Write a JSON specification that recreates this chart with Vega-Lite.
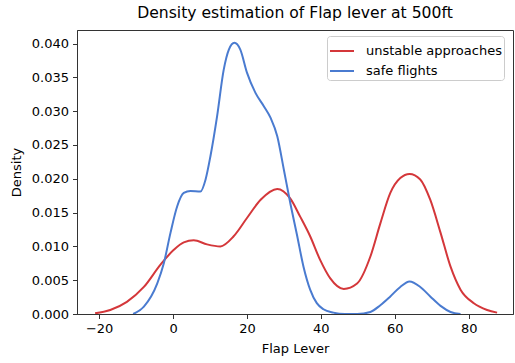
{
  "$schema": "https://vega.github.io/schema/vega-lite/v6.json",
  "width": 436,
  "height": 284,
  "autosize": {"type": "none"},
  "padding": {"left": 77, "top": 30, "right": 2, "bottom": 49},
  "title": {"text": "Density estimation of Flap lever at 500ft", "fontSize": 15.6, "font": "DejaVu Sans", "fontWeight": "normal", "color": "#000", "offset": 8, "anchor": "middle"},
  "config": {
    "view": {"stroke": "#333", "strokeWidth": 1},
    "font": "DejaVu Sans",
    "axis": {"grid": false, "domainColor": "#333", "tickColor": "#333", "tickSize": 4.5, "labelFontSize": 13, "labelColor": "#000", "titleFontSize": 13, "titleFontWeight": "normal", "titleColor": "#000", "labelPadding": 4, "labelFont": "DejaVu Sans", "titleFont": "DejaVu Sans"}
  },
  "data": {"values": [
    {"x": -21.1, "y": 0.0001, "s": "unstable approaches"},
    {"x": -17.0, "y": 0.0006, "s": "unstable approaches"},
    {"x": -12.5, "y": 0.0018, "s": "unstable approaches"},
    {"x": -7.9, "y": 0.0040, "s": "unstable approaches"},
    {"x": -3.4, "y": 0.0073, "s": "unstable approaches"},
    {"x": 0.2, "y": 0.0095, "s": "unstable approaches"},
    {"x": 2.9, "y": 0.0106, "s": "unstable approaches"},
    {"x": 5.6, "y": 0.0109, "s": "unstable approaches"},
    {"x": 9.2, "y": 0.0103, "s": "unstable approaches"},
    {"x": 12.8, "y": 0.0100, "s": "unstable approaches"},
    {"x": 16.4, "y": 0.0115, "s": "unstable approaches"},
    {"x": 20.0, "y": 0.0142, "s": "unstable approaches"},
    {"x": 23.7, "y": 0.0169, "s": "unstable approaches"},
    {"x": 28.2, "y": 0.0185, "s": "unstable approaches"},
    {"x": 31.7, "y": 0.0171, "s": "unstable approaches"},
    {"x": 34.4, "y": 0.0144, "s": "unstable approaches"},
    {"x": 37.1, "y": 0.0115, "s": "unstable approaches"},
    {"x": 39.8, "y": 0.0080, "s": "unstable approaches"},
    {"x": 42.5, "y": 0.0053, "s": "unstable approaches"},
    {"x": 46.2, "y": 0.0037, "s": "unstable approaches"},
    {"x": 49.8, "y": 0.0045, "s": "unstable approaches"},
    {"x": 53.4, "y": 0.0085, "s": "unstable approaches"},
    {"x": 56.1, "y": 0.0134, "s": "unstable approaches"},
    {"x": 58.8, "y": 0.0179, "s": "unstable approaches"},
    {"x": 61.5, "y": 0.0201, "s": "unstable approaches"},
    {"x": 64.0, "y": 0.0207, "s": "unstable approaches"},
    {"x": 66.9, "y": 0.0199, "s": "unstable approaches"},
    {"x": 69.6, "y": 0.0169, "s": "unstable approaches"},
    {"x": 72.4, "y": 0.0120, "s": "unstable approaches"},
    {"x": 75.1, "y": 0.0070, "s": "unstable approaches"},
    {"x": 77.8, "y": 0.0036, "s": "unstable approaches"},
    {"x": 81.4, "y": 0.0016, "s": "unstable approaches"},
    {"x": 85.0, "y": 0.0006, "s": "unstable approaches"},
    {"x": 87.7, "y": 0.0002, "s": "unstable approaches"},
    {"x": -10.8, "y": 0.0000, "s": "safe flights"},
    {"x": -7.9, "y": 0.0011, "s": "safe flights"},
    {"x": -4.3, "y": 0.0045, "s": "safe flights"},
    {"x": -2.5, "y": 0.0075, "s": "safe flights"},
    {"x": -0.7, "y": 0.0120, "s": "safe flights"},
    {"x": 1.1, "y": 0.0159, "s": "safe flights"},
    {"x": 2.9, "y": 0.0179, "s": "safe flights"},
    {"x": 4.7, "y": 0.0182, "s": "safe flights"},
    {"x": 7.4, "y": 0.0181, "s": "safe flights"},
    {"x": 8.8, "y": 0.0199, "s": "safe flights"},
    {"x": 10.1, "y": 0.0233, "s": "safe flights"},
    {"x": 11.9, "y": 0.0292, "s": "safe flights"},
    {"x": 13.7, "y": 0.0361, "s": "safe flights"},
    {"x": 15.1, "y": 0.0391, "s": "safe flights"},
    {"x": 16.6, "y": 0.0401, "s": "safe flights"},
    {"x": 18.2, "y": 0.0391, "s": "safe flights"},
    {"x": 20.0, "y": 0.0357, "s": "safe flights"},
    {"x": 22.3, "y": 0.0327, "s": "safe flights"},
    {"x": 24.6, "y": 0.0307, "s": "safe flights"},
    {"x": 26.4, "y": 0.0290, "s": "safe flights"},
    {"x": 28.2, "y": 0.0263, "s": "safe flights"},
    {"x": 30.0, "y": 0.0213, "s": "safe flights"},
    {"x": 31.8, "y": 0.0162, "s": "safe flights"},
    {"x": 33.5, "y": 0.0118, "s": "safe flights"},
    {"x": 35.3, "y": 0.0070, "s": "safe flights"},
    {"x": 37.1, "y": 0.0036, "s": "safe flights"},
    {"x": 38.9, "y": 0.0016, "s": "safe flights"},
    {"x": 40.7, "y": 0.0007, "s": "safe flights"},
    {"x": 43.4, "y": 0.0002, "s": "safe flights"},
    {"x": 46.5, "y": 0.0000, "s": "safe flights"},
    {"x": 49.8, "y": 0.0000, "s": "safe flights"},
    {"x": 53.4, "y": 0.0003, "s": "safe flights"},
    {"x": 56.1, "y": 0.0013, "s": "safe flights"},
    {"x": 58.8, "y": 0.0026, "s": "safe flights"},
    {"x": 61.5, "y": 0.0040, "s": "safe flights"},
    {"x": 64.0, "y": 0.0048, "s": "safe flights"},
    {"x": 66.9, "y": 0.0040, "s": "safe flights"},
    {"x": 69.6, "y": 0.0026, "s": "safe flights"},
    {"x": 72.4, "y": 0.0012, "s": "safe flights"},
    {"x": 75.1, "y": 0.0003, "s": "safe flights"},
    {"x": 77.8, "y": 0.0000, "s": "safe flights"}
  ]},
  "mark": {"type": "line", "interpolate": "monotone", "strokeWidth": 2, "clip": true},
  "encoding": {
    "x": {"field": "x", "type": "quantitative", "scale": {"domain": [-26, 92], "nice": false, "zero": false},
      "axis": {"values": [-20, 0, 20, 40, 60, 80], "title": "Flap Lever", "titlePadding": 7}},
    "y": {"field": "y", "type": "quantitative", "scale": {"domain": [0, 0.042], "nice": false},
      "axis": {"values": [0, 0.005, 0.01, 0.015, 0.02, 0.025, 0.03, 0.035, 0.04], "format": ".3f", "title": "Density", "titlePadding": 8}},
    "color": {"field": "s", "type": "nominal",
      "scale": {"domain": ["unstable approaches", "safe flights"], "range": ["#d4373a", "#4a7bd0"]},
      "legend": {"title": null, "orient": "none", "legendX": 250, "legendY": 6, "strokeColor": "#cccccc", "fillColor": "#ffffff", "cornerRadius": 3, "padding": 2, "labelFontSize": 13, "labelColor": "#000", "symbolType": "stroke", "symbolSize": 576, "symbolStrokeWidth": 2, "rowPadding": -4, "labelOffset": 11}},
    "order": {"field": "x", "type": "quantitative"}
  }
}
